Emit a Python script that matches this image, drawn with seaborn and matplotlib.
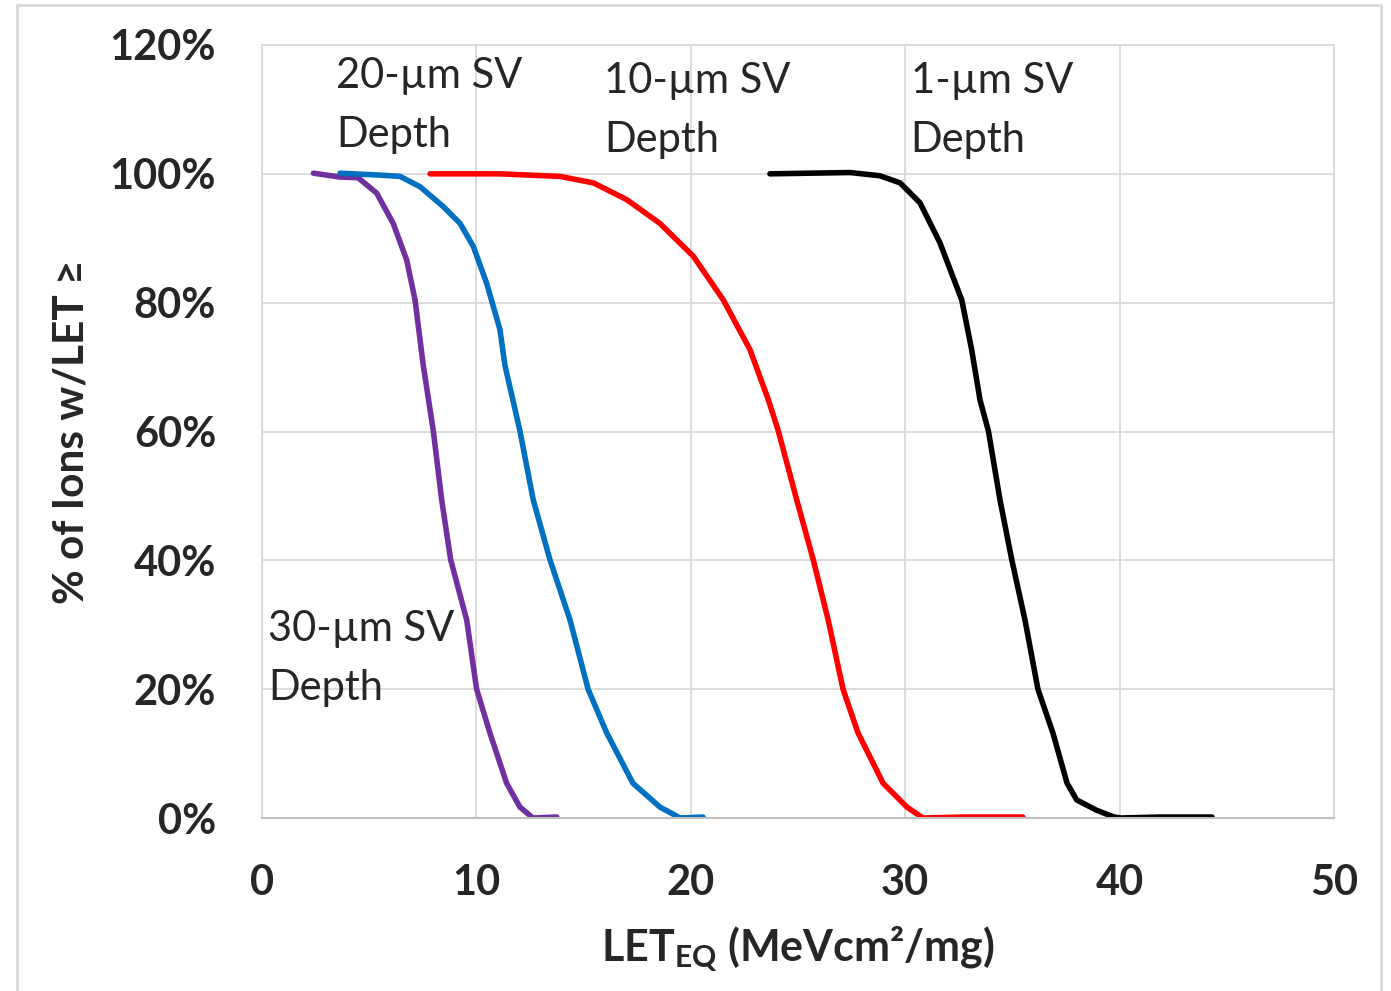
import matplotlib
matplotlib.use("Agg")
import matplotlib.pyplot as plt
import matplotlib.patches as mpatches
import seaborn as sns
import pandas as pd

# ---- data ----
let_30um = [2.40, 3.64, 4.48, 5.35, 6.12, 6.75, 7.14, 7.52, 7.99, 8.38, 8.80, 9.55, 10.01, 10.63, 11.41, 12.03, 12.64, 13.75]
pct_30um = [100.1, 99.5, 99.4, 97.0, 92.3, 86.6, 80.4, 70.3, 60.1, 49.4, 40.1, 30.7, 20.0, 13.2, 5.4, 1.7, 0.0, 0.15]

let_20um = [3.64, 5.50, 6.44, 7.37, 8.46, 9.24, 9.86, 10.48, 11.10, 11.33, 12.03, 12.65, 13.43, 14.37, 15.21, 16.08, 17.30, 18.56, 19.50, 20.57]
pct_20um = [100.1, 99.8, 99.6, 98.0, 94.9, 92.3, 88.7, 83.0, 75.8, 70.3, 60.1, 49.4, 40.1, 30.7, 20.0, 13.2, 5.4, 1.7, 0.0, 0.15]

let_10um = [7.84, 11.10, 13.90, 15.45, 17.01, 18.56, 20.12, 21.52, 22.76, 23.62, 24.08, 24.94, 25.71, 26.41, 27.10, 27.80, 28.97, 30.08, 30.83, 32.70, 35.49]
pct_10um = [100.0, 100.0, 99.6, 98.6, 96.0, 92.3, 87.2, 80.4, 72.7, 64.9, 60.1, 49.4, 40.1, 30.7, 20.0, 13.2, 5.4, 1.7, 0.0, 0.15, 0.15]

let_1um = [23.69, 27.43, 28.82, 29.76, 30.69, 31.62, 32.64, 33.10, 33.49, 33.88, 34.42, 34.97, 35.59, 36.19, 36.89, 37.55, 38.00, 38.93, 39.70, 40.02, 41.88, 44.31]
pct_1um = [100.0, 100.2, 99.7, 98.6, 95.5, 89.3, 80.4, 72.7, 64.9, 60.1, 49.4, 40.1, 30.7, 20.0, 13.2, 5.4, 2.8, 1.2, 0.2, 0.0, 0.15, 0.15]

series_names = ["30-µm SV\nDepth", "20-µm SV\nDepth", "10-µm SV\nDepth", "1-µm SV\nDepth"]
series_x = [let_30um, let_20um, let_10um, let_1um]
series_y = [pct_30um, pct_20um, pct_10um, pct_1um]
series_colors = ["#7030A0", "#0070C0", "#FF0000", "#000000"]

x_ticks = [0, 10, 20, 30, 40, 50]
y_ticks = [0, 20, 40, 60, 80, 100, 120]
y_tick_labels = ["0%", "20%", "40%", "60%", "80%", "100%", "120%"]

x_label = r"LET$_{\mathbf{EQ}}$ (MeVcm²/mg)"
y_label = "% of Ions w/LET ≥"

# ---- style ----
sns.set_style("white")
plt.rcParams["font.family"] = ["Lato", "DejaVu Sans"]
plt.rcParams["mathtext.fontset"] = "custom"
plt.rcParams["mathtext.rm"] = "Lato"
plt.rcParams["mathtext.bf"] = "Lato:bold"

fig = plt.figure(figsize=(13.91, 9.91), dpi=100)
ax = fig.add_axes([262 / 1391, 1 - 818 / 991, (1334 - 262) / 1391, (818 - 45) / 991])

frames = []
for name, xs, ys in zip(series_names, series_x, series_y):
    frames.append(pd.DataFrame({"LET": xs, "pct": ys, "series": name}))
df = pd.concat(frames, ignore_index=True)

for name, color in zip(series_names, series_colors):
    sub = df[df["series"] == name]
    sns.lineplot(data=sub, x="LET", y="pct", color=color, linewidth=4.0,
                 sort=False, estimator=None, ax=ax, legend=False,
                 solid_capstyle="round", solid_joinstyle="round")

ax.set_xlim(0, 50)
ax.set_ylim(0, 120)
ax.set_xticks(x_ticks)
ax.set_yticks(y_ticks)
ax.set_yticklabels(y_tick_labels)
ax.grid(True, color="#d9d9d9", linewidth=1.3)
ax.set_axisbelow(True)
for side in ["top", "right", "left"]:
    ax.spines[side].set_color("#d9d9d9")
    ax.spines[side].set_linewidth(1.3)
ax.spines["bottom"].set_color("#bfbfbf")
ax.spines["bottom"].set_linewidth(1.5)
ax.tick_params(axis="both", length=0, labelsize=30)
ax.tick_params(axis="y", pad=33)
ax.tick_params(axis="x", pad=33)
for lbl in ax.get_xticklabels() + ax.get_yticklabels():
    lbl.set_fontweight("bold")

ax.set_xlabel(x_label, fontsize=31, fontweight="bold", labelpad=16)
ax.set_ylabel(y_label, fontsize=30.5, fontweight="bold", labelpad=14)

# annotations (positions in data coords)
ann_pos = [(0.3, 32.3), (3.45, 118.2), (15.95, 117.3), (30.25, 117.3)]
for name, (tx, ty) in zip(series_names, ann_pos):
    ax.text(tx, ty, name, fontsize=30, ha="left", va="top", linespacing=1.68)

# figure border
fig.patches.append(mpatches.Rectangle((17 / 1391, -0.05), (1381 - 17) / 1391, 1.05 - 5 / 991,
                                      transform=fig.transFigure, fill=False,
                                      edgecolor="#d9d9d9", linewidth=2))

fig.savefig("out.png", dpi=100)
